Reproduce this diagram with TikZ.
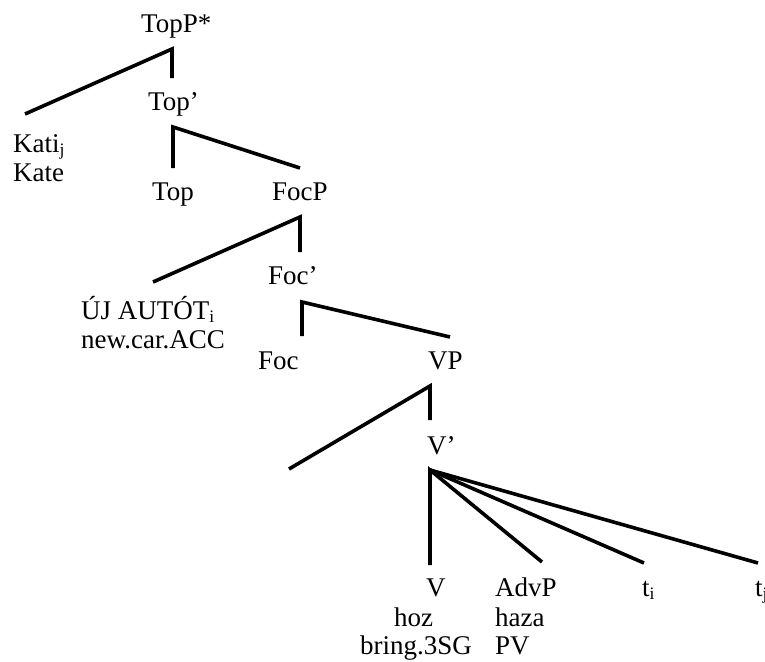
\documentclass[tikz,border=0pt]{standalone}
\usepackage{fontspec}
\setmainfont{Liberation Serif}
\newcommand{\lowidx}[1]{\raisebox{-0.3ex}{\fontsize{17.5}{17.5}\selectfont #1}}
\begin{document}
\begin{tikzpicture}[x=1pt,y=-1pt,
  lbl/.style={anchor=base west,inner sep=0pt,font=\fontsize{27}{30}\selectfont},
  branch/.style={line width=3.6pt,line join=miter}]
\useasboundingbox (0,0) rectangle (765,661);

% category and word labels
\node[lbl] (topp) at (141,33) {TopP*};
\node[lbl] (topbar) at (148,110) {Top’};
\node[lbl] (kati) at (13,152) {Kati\lowidx{j}};
\node[lbl] (kate) at (13,181) {Kate};
\node[lbl] (top) at (152,200) {Top};
\node[lbl] (focp) at (272,200) {FocP};
\node[lbl] (focbar) at (268,284) {Foc’};
\node[lbl] (ujauto) at (81,319) {ÚJ AUTÓT\lowidx{i}};
\node[lbl] (newcar) at (81,348) {new.car.ACC};
\node[lbl] (foc) at (258,369) {Foc};
\node[lbl] (vp) at (428,369) {VP};
\node[lbl] (vbar) at (427,454) {V’};
\node[lbl] (v) at (426,596) {V};
\node[lbl] (advp) at (495,596) {AdvP};
\node[lbl] (ti) at (642,596) {t\lowidx{i}};
\node[lbl] (tj) at (755,596) {t\lowidx{j}};
\node[lbl] (hoz) at (394,626) {hoz};
\node[lbl] (haza) at (495,626) {haza};
\node[lbl] (bring) at (360,654) {bring.3SG};
\node[lbl] (pv) at (495,654) {PV};

% branch end points
\coordinate (r1) at (172,49);  \coordinate (r1l) at (25,114);  \coordinate (r1d) at (172,78);
\coordinate (r2) at (173,127); \coordinate (r2d) at (173,168); \coordinate (r2r) at (300,168);
\coordinate (r3) at (300,217); \coordinate (r3l) at (153,282); \coordinate (r3d) at (300,252);
\coordinate (r4) at (302,302); \coordinate (r4d) at (302,336); \coordinate (r4r) at (450,337);
\coordinate (r5) at (430,386); \coordinate (r5l) at (289,469); \coordinate (r5d) at (430,420);
\coordinate (r6) at (430,470);
\coordinate (r6v) at (430,565); \coordinate (r6a) at (542,562);
\coordinate (r6i) at (644,563); \coordinate (r6j) at (758,563);

% branches
\draw[branch] (r1l) -- (r1) -- (r1d);
\draw[branch] (r2d) -- (r2) -- (r2r);
\draw[branch] (r3l) -- (r3) -- (r3d);
\draw[branch] (r4d) -- (r4) -- (r4r);
\draw[branch] (r5l) -- (r5) -- (r5d);
\draw[branch] (r6v) -- (r6) -- (r6a);
\draw[branch] (r6) -- (r6i);
\draw[branch] (r6) -- (r6j);
\end{tikzpicture}
\end{document}
